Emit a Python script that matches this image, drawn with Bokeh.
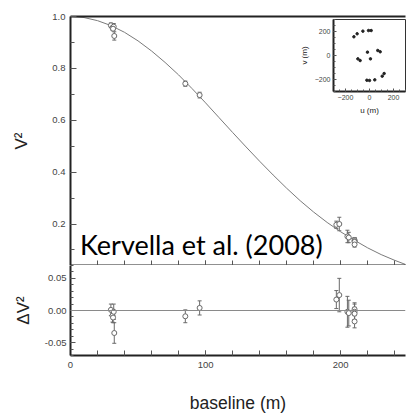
from bokeh.plotting import figure
from bokeh.models import (ColumnDataSource, Whisker, Span, Label, LinearAxis, FixedTicker,
                          SingleIntervalTicker, PrintfTickFormatter, Range1d, TeeHead,
                          CustomJSTickFormatter)
from bokeh.layouts import column
from bokeh.embed import file_html
from bokeh.resources import INLINE

# ---- data ----
baseline = [29.9, 31.1, 32.0, 31.5, 32.4, 85.0, 95.6, 196.8, 199.0, 205.0, 206.0, 210.3, 210.3, 210.3, 210.3]
v2 = [0.966, 0.957, 0.961, 0.953, 0.925, 0.741, 0.697, 0.197, 0.200, 0.152, 0.148, 0.138, 0.134, 0.131, 0.121]
resid = [0.001, -0.008, -0.002, -0.011, -0.035, -0.009, 0.004, 0.017, 0.024, -0.002, -0.004, 0.002, -0.002, -0.005, -0.017]
err = [0.009, 0.010, 0.012, 0.008, 0.016, 0.010, 0.011, 0.014, 0.026, 0.024, 0.020, 0.010, 0.012, 0.010, 0.010]

model_b = [0, 10, 20, 30, 40, 50, 60, 70, 80, 90, 100, 110, 120, 130, 140, 150, 160, 170, 180, 190, 200, 210, 220, 230, 240, 250]
model_v2 = [1.0, 0.996, 0.984, 0.965, 0.939, 0.906, 0.867, 0.823, 0.775, 0.722, 0.667, 0.610, 0.553, 0.497,
            0.442, 0.389, 0.338, 0.290, 0.246, 0.206, 0.170, 0.138, 0.108, 0.082, 0.060, 0.040]

u = [-130, -103, -55, -8, 14, -17, 69, 89, -97, -78, 8, -22, 0, 44, 106, 122]
v = [156, 181, 203, 208, 208, 28, 42, 31, -28, -42, -28, -206, -208, -203, -172, -150]

FONT = "Liberation Sans"
GREY = "#6a6a6a"

src = ColumnDataSource(dict(
    b=baseline, v2=v2, r=resid,
    v2_lo=[a - e for a, e in zip(v2, err)], v2_hi=[a + e for a, e in zip(v2, err)],
    r_lo=[a - e for a, e in zip(resid, err)], r_hi=[a + e for a, e in zip(resid, err)],
))

def style_axis(ax, tick_in=5, minor_in=3):
    ax.major_tick_in = tick_in
    ax.major_tick_out = 0
    ax.minor_tick_in = minor_in
    ax.minor_tick_out = 0
    ax.axis_line_width = 2
    ax.axis_line_color = "#222222"
    ax.major_tick_line_color = "#555555"
    ax.minor_tick_line_color = "#555555"
    ax.major_label_text_font = FONT
    ax.major_label_text_color = "#444444"
    ax.major_label_text_font_size = "9.5px"
    ax.axis_label_text_font = FONT
    ax.axis_label_text_font_style = "normal"
    ax.axis_label_text_color = "#222222"

# ---- main panel ----
xr = Range1d(0, 248)
main = figure(width=408, height=265, x_range=xr, y_range=Range1d(0.04, 1.0),
              output_backend="svg", toolbar_location=None, tools="",
              min_border_left=70, min_border_right=0, min_border_top=16, min_border_bottom=0)
main.grid.visible = False
main.outline_line_color = None
main.xaxis.ticker = SingleIntervalTicker(interval=100, num_minor_ticks=5)
style_axis(main.xaxis[0], 5, 5)
main.xaxis.formatter = CustomJSTickFormatter(code="return '';")
main.xaxis.major_label_standoff = 0
main.yaxis.ticker = SingleIntervalTicker(interval=0.2, num_minor_ticks=2)
main.yaxis.formatter = PrintfTickFormatter(format="%.1f")
style_axis(main.yaxis[0], 6, 4)
main.yaxis.major_label_standoff = 5
main.yaxis.axis_label = "V²"
main.yaxis.axis_label_text_font_size = "17px"
main.yaxis.axis_label_standoff = 18

top = LinearAxis(ticker=FixedTicker(ticks=[]), major_tick_in=0, major_tick_out=0,
                 minor_tick_in=0, minor_tick_out=0, major_label_standoff=0,
                 axis_line_width=2, axis_line_color="#222222")
main.add_layout(top, "above")

main.line(model_b, model_v2, line_color="#7a7a7a", line_width=1)
main.add_layout(Whisker(source=src, base="b", lower="v2_lo", upper="v2_hi", line_color=GREY,
                        line_width=1,
                        upper_head=TeeHead(size=4, line_color=GREY),
                        lower_head=TeeHead(size=4, line_color=GREY)))
main.scatter("b", "v2", source=src, marker="circle", size=5, fill_color="white",
             line_color=GREY, line_width=1)
main.add_layout(Label(x=7, y=0.058, text="Kervella et al. (2008)", text_font="Lato",
                      text_font_size="27px", text_color="black", text_baseline="bottom"))

# ---- residual panel ----
low = figure(width=408, height=150, x_range=xr, y_range=Range1d(-0.07, 0.07),
             output_backend="svg", toolbar_location=None, tools="",
             min_border_left=70, min_border_right=0, min_border_top=0, min_border_bottom=58)
low.grid.visible = False
low.outline_line_color = None
low.xaxis.ticker = SingleIntervalTicker(interval=100, num_minor_ticks=5)
style_axis(low.xaxis[0], 5, 5)
low.xaxis.major_label_standoff = 6
low.xaxis.axis_label = "baseline (m)"
low.xaxis.axis_label_text_font_size = "17.5px"
low.xaxis.axis_label_standoff = 22
low.yaxis.ticker = SingleIntervalTicker(interval=0.05, num_minor_ticks=5)
low.yaxis.formatter = PrintfTickFormatter(format="%.2f")
style_axis(low.yaxis[0], 5, 3)
low.yaxis.major_label_standoff = 4
low.yaxis.axis_label = "ΔV²"
low.yaxis.axis_label_text_font_size = "17px"
low.yaxis.axis_label_standoff = 9

low.add_layout(Span(location=0, dimension="width", line_color="#8a8a8a", line_width=1))
low.add_layout(Whisker(source=src, base="b", lower="r_lo", upper="r_hi", line_color=GREY,
                       line_width=1,
                       upper_head=TeeHead(size=4, line_color=GREY),
                       lower_head=TeeHead(size=4, line_color=GREY)))
low.scatter("b", "r", source=src, marker="circle", size=5, fill_color="white",
            line_color=GREY, line_width=1)

# ---- inset (u, v) coverage ----
ins = figure(frame_width=72, frame_height=72, x_range=Range1d(-300, 300), y_range=Range1d(-300, 300),
             output_backend="svg", toolbar_location=None, tools="",
             min_border_left=70, min_border_right=3, min_border_top=2, min_border_bottom=28)
ins.styles = {"position": "absolute", "left": "263px", "top": "17px", "z-index": "5"}
ins.grid.visible = False
ins.outline_line_color = "#333333"
ins.border_fill_alpha = 0
for ax in (ins.xaxis[0], ins.yaxis[0]):
    ax.ticker = SingleIntervalTicker(interval=200, num_minor_ticks=4)
    style_axis(ax, 3, 2)
    ax.major_label_text_font_size = "7px"
    ax.major_label_standoff = 3
    ax.axis_label_text_font_size = "8px"
    ax.axis_label_standoff = 3
ins.xaxis.axis_label = "u (m)"
ins.yaxis.axis_label = "v (m)"
ins.scatter(u, v, marker="circle", size=2.5, color="#222222")

layout = column(main, low, ins, spacing=0)
open("out.html", "w").write(file_html(layout, INLINE))
